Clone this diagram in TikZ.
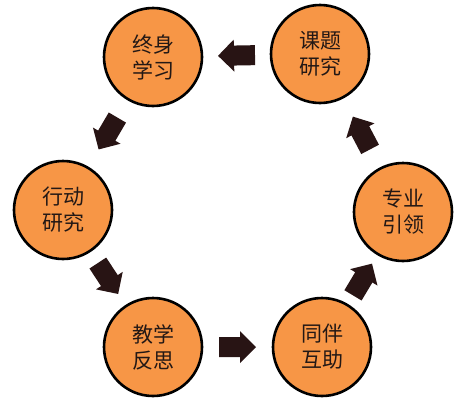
\documentclass[tikz,border=0pt]{standalone}
\usepackage{fontspec}
\newfontfamily\cjk{Noto Sans CJK SC}
\usetikzlibrary{calc}
\definecolor{circfill}{RGB}{247,150,70}
\definecolor{arrowcol}{RGB}{40,20,20}
\definecolor{txtcol}{RGB}{35,24,21}
\newcommand{\blockarr}[2]{%
  \coordinate (m#1#2) at ($(#1)!0.5!(#2)$);
  \coordinate (t#1#2) at ($(m#1#2)!18.5pt!(#2)$);
  \coordinate (s#1#2) at ($(m#1#2)!-18.5pt!(#2)$);
  \coordinate (h#1#2) at ($(m#1#2)!2.5pt!(#2)$);
  \fill[arrowfill] ($(s#1#2)!10pt!90:(#2)$) -- ($(h#1#2)!10pt!90:(#2)$) -- ($(h#1#2)!16pt!90:(#2)$)
    -- (t#1#2) -- ($(h#1#2)!16pt!-90:(#2)$) -- ($(h#1#2)!10pt!-90:(#2)$) -- ($(s#1#2)!10pt!-90:(#2)$) -- cycle;}
\begin{document}
\begin{tikzpicture}[x=1pt,y=-1pt,
  stage/.style={circle, draw=black, line width=2.6pt, fill=circfill, minimum size=98pt, inner sep=0pt,
    align=center, text=txtcol, font=\cjk\fontsize{21}{26}\selectfont},
  arrowfill/.style={fill=arrowcol}]
\useasboundingbox (0,0) rectangle (457,407);
\node[stage] (a) at (153,57) {终身\\学习};
\node[stage] (b) at (320,54) {课题\\研究};
\node[stage] (c) at (63,210) {行动\\研究};
\node[stage] (d) at (403,212) {专业\\引领};
\node[stage] (e) at (153,347) {教学\\反思};
\node[stage] (f) at (322,347) {同伴\\互助};
\blockarr{b}{a}
\blockarr{a}{c}
\blockarr{c}{e}
\blockarr{e}{f}
\blockarr{f}{d}
\blockarr{d}{b}
\end{tikzpicture}
\end{document}
